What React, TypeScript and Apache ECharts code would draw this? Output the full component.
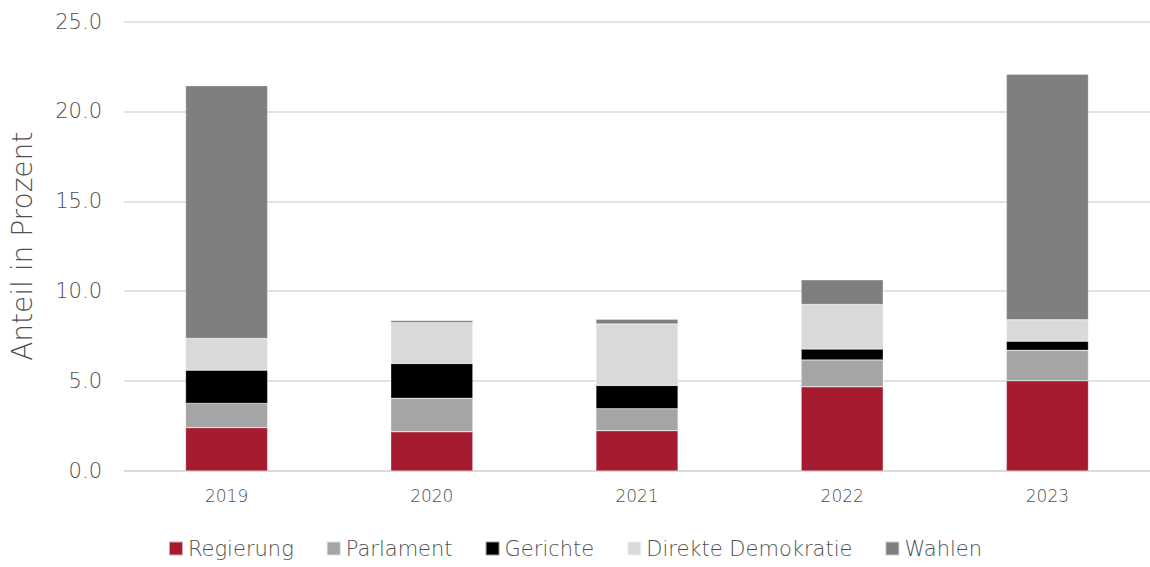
import React, { useEffect, useRef } from "react";
import * as echarts from "echarts";

const years = ["2019", "2020", "2021", "2022", "2023"];
const regierung = [2.41, 2.18, 2.24, 4.68, 5.02];
const parlament = [1.35, 1.86, 1.22, 1.5, 1.69];
const gerichte = [1.85, 1.94, 1.3, 0.6, 0.51];
const direkteDemokratie = [1.76, 2.26, 3.42, 2.48, 1.19];
const wahlen = [14.06, 0.13, 0.26, 1.37, 13.66];

const seriesDefs = [
  { name: "Regierung", data: regierung, color: "#A51C30" },
  { name: "Parlament", data: parlament, color: "#A5A5A5" },
  { name: "Gerichte", data: gerichte, color: "#000000" },
  { name: "Direkte Demokratie", data: direkteDemokratie, color: "#D9D9D9" },
  { name: "Wahlen", data: wahlen, color: "#7F7F7F" },
];

const FONT = "DejaVu Sans";
const TEXT = "#4f4f4f";

export default function App() {
  const ref = useRef<HTMLDivElement>(null);
  useEffect(() => {
    if (!ref.current) return;
    const chart = echarts.init(ref.current, null, { renderer: "svg" });
    chart.setOption({
      animation: false,
      grid: { left: 124, right: -4, top: 21.5, bottom: 96 },
      legend: {
        bottom: 3,
        left: "center",
        itemWidth: 14,
        itemHeight: 14,
        itemGap: 32,
        icon: "rect",
        textStyle: { fontFamily: FONT, fontSize: 21, color: TEXT, fontWeight: 200 },
        data: seriesDefs.map((s) => s.name),
      },
      xAxis: {
        type: "category",
        data: years,
        axisLine: { lineStyle: { color: "#D9D9D9", width: 1.5 } },
        axisTick: { show: false },
        axisLabel: { fontFamily: FONT, fontSize: 17, color: TEXT, fontWeight: 200, margin: 16 },
      },
      yAxis: {
        type: "value",
        min: 0,
        max: 25,
        interval: 5,
        name: "Anteil in Prozent",
        nameLocation: "middle",
        nameGap: 88,
        nameTextStyle: { fontFamily: FONT, fontSize: 28, color: TEXT, fontWeight: 200 },
        splitLine: { lineStyle: { color: "#D9D9D9", width: 1.5 } },
        axisLine: { show: false },
        axisTick: { show: false },
        axisLabel: {
          fontFamily: FONT,
          fontSize: 21,
          color: TEXT,
          fontWeight: 200,
          margin: 22,
          formatter: (v: number) => v.toFixed(1),
        },
      },
      series: seriesDefs.map((s) => ({
        name: s.name,
        type: "bar",
        stack: "total",
        data: s.data,
        barWidth: "40%",
        itemStyle: { color: s.color, borderColor: "rgba(255,255,255,0.6)", borderWidth: 0.5 },
      })),
    });
    return () => chart.dispose();
  }, []);
  return <div ref={ref} style={{ width: 1150, height: 567, position: "absolute", left: 0, top: 0 }} />;
}
